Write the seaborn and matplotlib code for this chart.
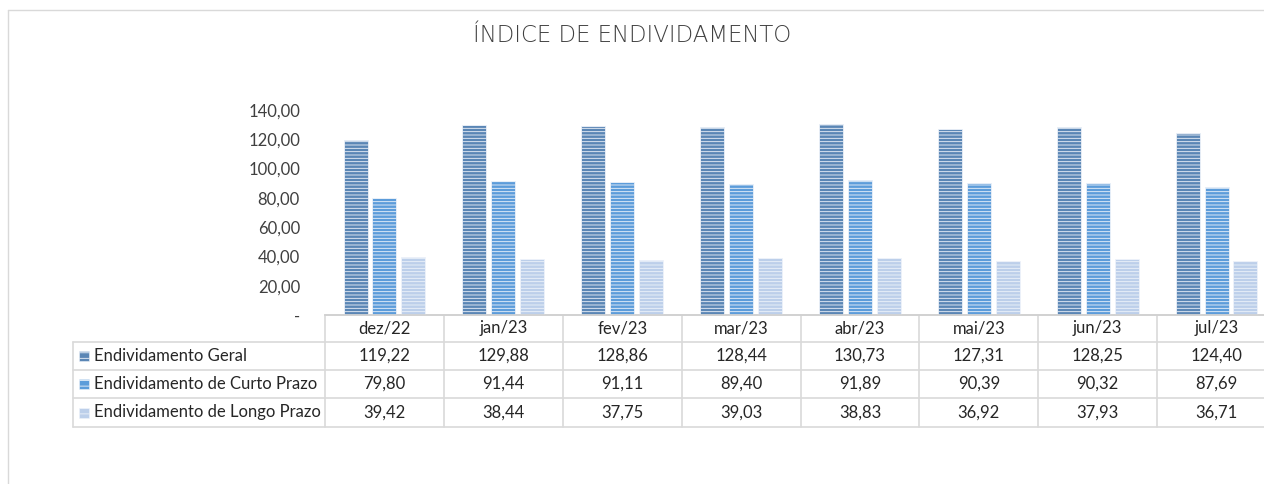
import numpy as np
import pandas as pd
import matplotlib
matplotlib.use("Agg")
import matplotlib.pyplot as plt
import seaborn as sns
from matplotlib.transforms import blended_transform_factory

categories = ["dez/22", "jan/23", "fev/23", "mar/23", "abr/23", "mai/23", "jun/23", "jul/23"]
series_names = ["Endividamento Geral", "Endividamento de Curto Prazo", "Endividamento de Longo Prazo"]
geral = [119.22, 129.88, 128.86, 128.44, 130.73, 127.31, 128.25, 124.40]
curto = [79.80, 91.44, 91.11, 89.40, 91.89, 90.39, 90.32, 87.69]
longo = [39.42, 38.44, 37.75, 39.03, 38.83, 36.92, 37.93, 36.71]
yticks = [0, 20, 40, 60, 80, 100, 120, 140]
ytick_labels = ["-", "20,00", "40,00", "60,00", "80,00", "100,00", "120,00", "140,00"]
title = "ÍNDICE DE ENDIVIDAMENTO"

colors = ["#5a86b5", "#5c9cda", "#bccfea"]

sns.set_style("white")
plt.rcParams['font.family'] = ['Lato', 'DejaVu Sans']
plt.rcParams['hatch.color'] = '#ffffffa0'
plt.rcParams['hatch.linewidth'] = 0.6

W, H = 1264, 484
fig = plt.figure(figsize=(W / 100, H / 100), dpi=100)

# overlay axes in pixel coordinates
ov = fig.add_axes([0, 0, 1, 1], zorder=0)
ov.set_xlim(0, W)
ov.set_ylim(H, 0)
ov.axis("off")

ax_left, ax_right = 325, 1276
ax_top, ax_bot = 110, 315
ax = fig.add_axes([ax_left / W, (H - ax_bot) / H, (ax_right - ax_left) / W, (ax_bot - ax_top) / H], zorder=1)
ax.patch.set_alpha(0)

df = pd.DataFrame({
    "cat": categories * 3,
    "serie": sum([[s] * len(categories) for s in series_names], []),
    "val": geral + curto + longo,
})
sns.barplot(data=df, x="cat", y="val", hue="serie", order=categories, hue_order=series_names,
            palette=colors, width=0.73, gap=0.17, ax=ax, legend=False, saturation=1)

for p in ax.patches:
    p.set_hatch("-----")
    p.set_edgecolor("#eef3fa")
    p.set_linewidth(0.6)

ax.set_ylim(0, 140)
ax.set_xlim(-0.5, len(categories) - 0.5)
ax.set_yticks(yticks)
ax.set_yticklabels(ytick_labels, fontsize=12, color="#404040")
ax.tick_params(axis="y", length=0, pad=18)
ax.set_xticks([])
ax.set_xlabel("")
ax.set_ylabel("")
for s in ["top", "right", "left"]:
    ax.spines[s].set_visible(False)
ax.spines["bottom"].set_color("#d0d0d0")
ax.spines["bottom"].set_linewidth(1.2)

# title
ov.text(632, 35, title, ha="center", va="center", fontsize=16.5, color="#404040",
        family=["DejaVu Sans"], fontweight="light")

# outer frame
ov.plot([8, 8], [10, H], color="#d9d9d9", lw=1)
ov.plot([8, W], [10, 10], color="#d9d9d9", lw=1)

# data table
tr = blended_transform_factory(ax.transData, ov.transData)
row_y = [315, 342, 370, 398, 427]
grid = "#d9d9d9"
n = len(categories)
ov.plot([-0.5, n - 0.5], [row_y[0]] * 2, color=grid, lw=1.2, transform=tr, clip_on=False)
for y in row_y[1:]:
    ov.plot([73, W + 20], [y, y], color=grid, lw=1.2, clip_on=False)
for i in range(n + 1):
    ov.plot([i - 0.5, i - 0.5], [row_y[0], row_y[-1]], color=grid, lw=1.2, transform=tr, clip_on=False)
ov.plot([73, 73], [row_y[1], row_y[-1]], color=grid, lw=1.2)

for i, c in enumerate(categories):
    ov.text(i, (row_y[0] + row_y[1]) / 2, c, ha="center", va="center", fontsize=12,
            color="#262626", transform=tr)

values = [geral, curto, longo]
for r, (name, vals, col) in enumerate(zip(series_names, values, colors)):
    yc = (row_y[r + 1] + row_y[r + 2]) / 2
    ov.add_patch(plt.Rectangle((79, yc - 5), 10, 10, facecolor=col, edgecolor="#eef3fa",
                               hatch="---", lw=0.4))
    ov.text(94, yc, name, ha="left", va="center", fontsize=12, color="#262626")
    for i, v in enumerate(vals):
        ov.text(i, yc, f"{v:.2f}".replace(".", ","), ha="center", va="center", fontsize=12,
                color="#262626", transform=tr)

fig.savefig("out.png", dpi=100)
